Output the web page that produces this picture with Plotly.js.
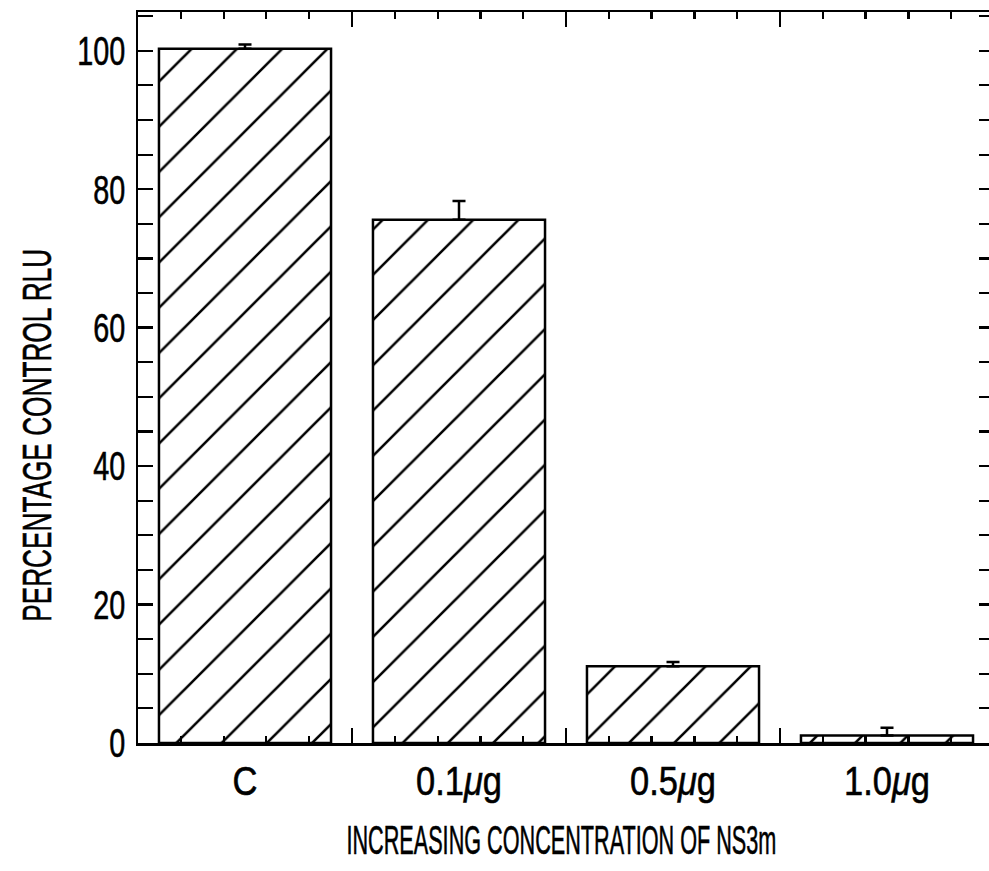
<!DOCTYPE html>
<html>
<head>
<meta charset="utf-8">
<script src="https://cdn.plot.ly/plotly-3.0.1.min.js"></script>
<style>
  html, body { margin: 0; padding: 0; overflow: hidden; background: #fff; }
  #chart { width: 1000px; height: 871px; }
  #chart svg text { stroke: #000; stroke-width: 0.6px; }
</style>
</head>
<body>
<div id="chart"></div>
<script>
// Luciferase activity relative to control, by amount of NS3m
const categories = ['C', '0.1μg', '0.5μg', '1.0μg'];
const tickLabels = ['C', '0.1<i>μ</i>g', '0.5<i>μ</i>g', '1.0<i>μ</i>g'];
const percentRLU = [100.3, 75.6, 11.1, 1.1];
const errPlus = [0.6, 2.7, 0.6, 1.1];
const errMinus = [0, 0, 0, 0];

const xTitle = 'INCREASING CONCENTRATION OF NS3m';
const yTitle = 'PERCENTAGE CONTROL RLU';

const FONT = 'Liberation Sans, Arial, Helvetica, sans-serif';
const FS = 41;
const positions = categories.map((_, i) => i);

const bars = {
  type: 'bar',
  x: positions,
  y: percentRLU,
  width: 0.804,
  marker: {
    color: '#ffffff',
    line: { color: '#000', width: 2.5 },
    pattern: { shape: '/', size: 32, solidity: 0.08, fgcolor: '#000', bgcolor: '#ffffff', fillmode: 'replace' }
  },
  error_y: {
    type: 'data', symmetric: false, array: errPlus, arrayminus: errMinus,
    color: '#000', thickness: 2.5, width: 6.5
  },
  hoverinfo: 'skip',
  showlegend: false
};

const layout = {
  width: 1000,
  height: 871,
  margin: { l: 138, r: 6, t: 12, b: 128 },
  paper_bgcolor: '#fff',
  plot_bgcolor: '#fff',
  font: { family: FONT, size: FS, color: '#000' },
  xaxis: {
    range: [-0.5, 3.5],
    tickmode: 'array',
    tickvals: [-0.5, 0.5, 1.5, 2.5, 3.5],
    showticklabels: false,
    ticks: 'inside', ticklen: 15, tickwidth: 2.5, tickcolor: '#000',
    minor: { tickmode: 'linear', tick0: -0.5, dtick: 0.2, ticks: 'inside', ticklen: 7, tickwidth: 2.2, tickcolor: '#000' },
    showline: true, linecolor: '#000', linewidth: 2.5, mirror: 'allticks',
    showgrid: false, zeroline: false, fixedrange: true
  },
  xaxis2: {
    overlaying: 'x', anchor: 'y', side: 'bottom',
    range: [-0.5, 3.5],
    tickmode: 'array', tickvals: positions, ticktext: tickLabels,
    ticks: '', showline: false, showgrid: false, zeroline: false,
    ticklabelstandoff: 10,
    tickfont: { family: FONT, size: FS, color: '#000' }
  },
  yaxis: {
    range: [0, 105.6],
    tickmode: 'linear', tick0: 0, dtick: 20,
    ticks: 'inside', ticklen: 15, tickwidth: 2.5, tickcolor: '#000',
    minor: { dtick: 5, ticks: 'inside', ticklen: 7, tickwidth: 2.2, tickcolor: '#000' },
    showline: true, linecolor: '#000', linewidth: 2.5, mirror: 'allticks',
    showgrid: false, zeroline: false,
    tickfont: { family: FONT, size: FS, color: '#000' },
    ticklabelstandoff: 2
  },
  annotations: [
    {
      text: xTitle, xref: 'paper', yref: 'paper', x: 0.495, y: 0,
      xanchor: 'center', yanchor: 'middle', yshift: -97, showarrow: false,
      font: { family: FONT, size: FS, color: '#000' }
    },
    {
      text: yTitle, xref: 'paper', yref: 'paper', x: 0, y: 0.42,
      xanchor: 'center', yanchor: 'middle', xshift: -101, textangle: -90, showarrow: false,
      font: { family: FONT, size: FS, color: '#000' }
    }
  ]
};

// tick-label axis needs a trace reference to be drawn
const labelAnchor = {
  type: 'scatter', x: positions, y: percentRLU.map(() => null), xaxis: 'x2', yaxis: 'y',
  mode: 'markers', hoverinfo: 'skip', showlegend: false
};

// Condense text horizontally around its anchor point (narrow typeface look)
function condense(nodes, targetWidth, refNode) {
  if (!nodes.length) return;
  const ref = refNode || nodes[0];
  const w = ref.getBBox().width;
  if (!w) return;
  const k = targetWidth / w;
  nodes.forEach(t => {
    const ax = parseFloat(t.getAttribute('x')) || 0;
    const prev = t.getAttribute('transform') || '';
    t.setAttribute('transform', prev + ' translate(' + ax + ',0) scale(' + k + ',1) translate(' + (-ax) + ',0)');
  });
}

Plotly.newPlot('chart', [bars, labelAnchor], layout, { staticPlot: true }).then(gd => {
  const yt = Array.from(gd.querySelectorAll('g.ytick text'));
  const yRef = yt.find(t => t.textContent === '100');
  condense(yt, 48, yRef);
  const xt = Array.from(gd.querySelectorAll('g.x2tick text'));
  const xRef = xt.find(t => t.textContent.indexOf('0.1') === 0);
  condense(xt, 86, xRef);
  const ann = Array.from(gd.querySelectorAll('.annotation-text'));
  condense(ann.filter(t => t.textContent === xTitle), 430);
  condense(ann.filter(t => t.textContent === yTitle), 373);
});
</script>
</body>
</html>
